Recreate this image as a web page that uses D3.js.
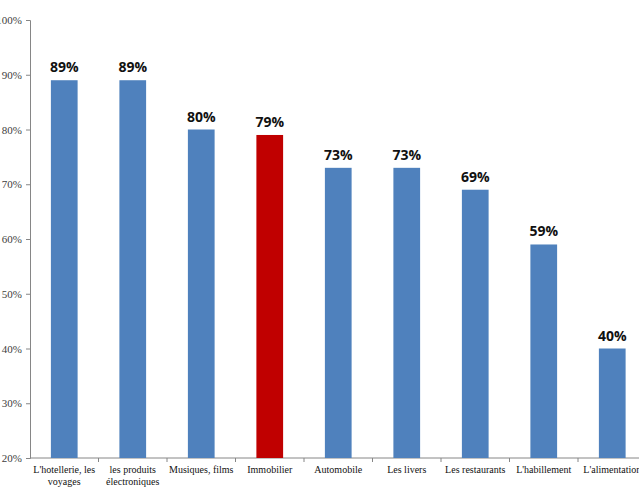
<!DOCTYPE html>
<html><head><meta charset="utf-8">
<script src="https://cdn.jsdelivr.net/npm/d3@7"></script>
<style>body{margin:0;background:#fff;overflow:hidden}</style>
</head><body>
<script>
const categories = [["L'hotellerie, les","voyages"],["les produits","électroniques"],["Musiques, films"],["Immobilier"],["Automobile"],["Les livers"],["Les restaurants"],["L'habillement"],["L'alimentation"]];
const values = [89, 89, 80, 79, 73, 73, 69, 59, 40];
const highlight = [false, false, false, true, false, false, false, false, false];
const yTicks = [20, 30, 40, 50, 60, 70, 80, 90, 100];

const W = 639, H = 489;
const svg = d3.select("body").append("svg").attr("width", W).attr("height", H);
const x0 = 30, step = 68.5;
const x = d3.scaleBand().domain(d3.range(categories.length)).range([x0, x0 + step * categories.length]).paddingInner(0.61).paddingOuter(0.305);
const y = d3.scaleLinear().domain([20, 100]).range([458, 20]);

// y axis
const ya = svg.append("g").attr("transform", `translate(${x0},0)`)
  .call(d3.axisLeft(y).tickValues(yTicks).tickSize(4).tickFormat(d => d + "%"));
ya.select(".domain").attr("stroke", "#868686");
ya.selectAll(".tick line").attr("stroke", "#868686");
ya.selectAll(".tick text").attr("font-family", "Liberation Serif").attr("font-size", 11).attr("fill", "#404040").attr("x", -8);

// x axis
svg.append("line").attr("x1", x0).attr("x2", W).attr("y1", y(20)).attr("y2", y(20)).attr("stroke", "#868686");
d3.range(1, categories.length + 1).forEach(k => {
  svg.append("line").attr("x1", x0 + step * k).attr("x2", x0 + step * k).attr("y1", y(20)).attr("y2", y(20) + 4).attr("stroke", "#868686");
});

svg.selectAll("rect.bar").data(values).enter().append("rect")
  .attr("x", (d, i) => x(i)).attr("width", x.bandwidth())
  .attr("y", d => y(d)).attr("height", d => y(20) - y(d))
  .attr("fill", (d, i) => highlight[i] ? "#C00000" : "#4F81BD");

svg.selectAll("text.val").data(values).enter().append("text")
  .attr("x", (d, i) => x(i) + x.bandwidth() / 2).attr("y", d => y(d) - 8)
  .attr("text-anchor", "middle").attr("font-family", "Open Sans, Liberation Sans").attr("font-weight", "bold")
  .attr("font-size", 14).attr("fill", "#111").text(d => d + "%");

categories.forEach((lines, i) => {
  const t = svg.append("text").attr("text-anchor", "middle").attr("font-family", "Liberation Serif")
    .attr("font-size", 10).attr("fill", "#111");
  lines.forEach((l, j) => t.append("tspan").attr("x", x(i) + x.bandwidth() / 2).attr("y", 473 + j * 12).text(l));
});
</script>
</body></html>
